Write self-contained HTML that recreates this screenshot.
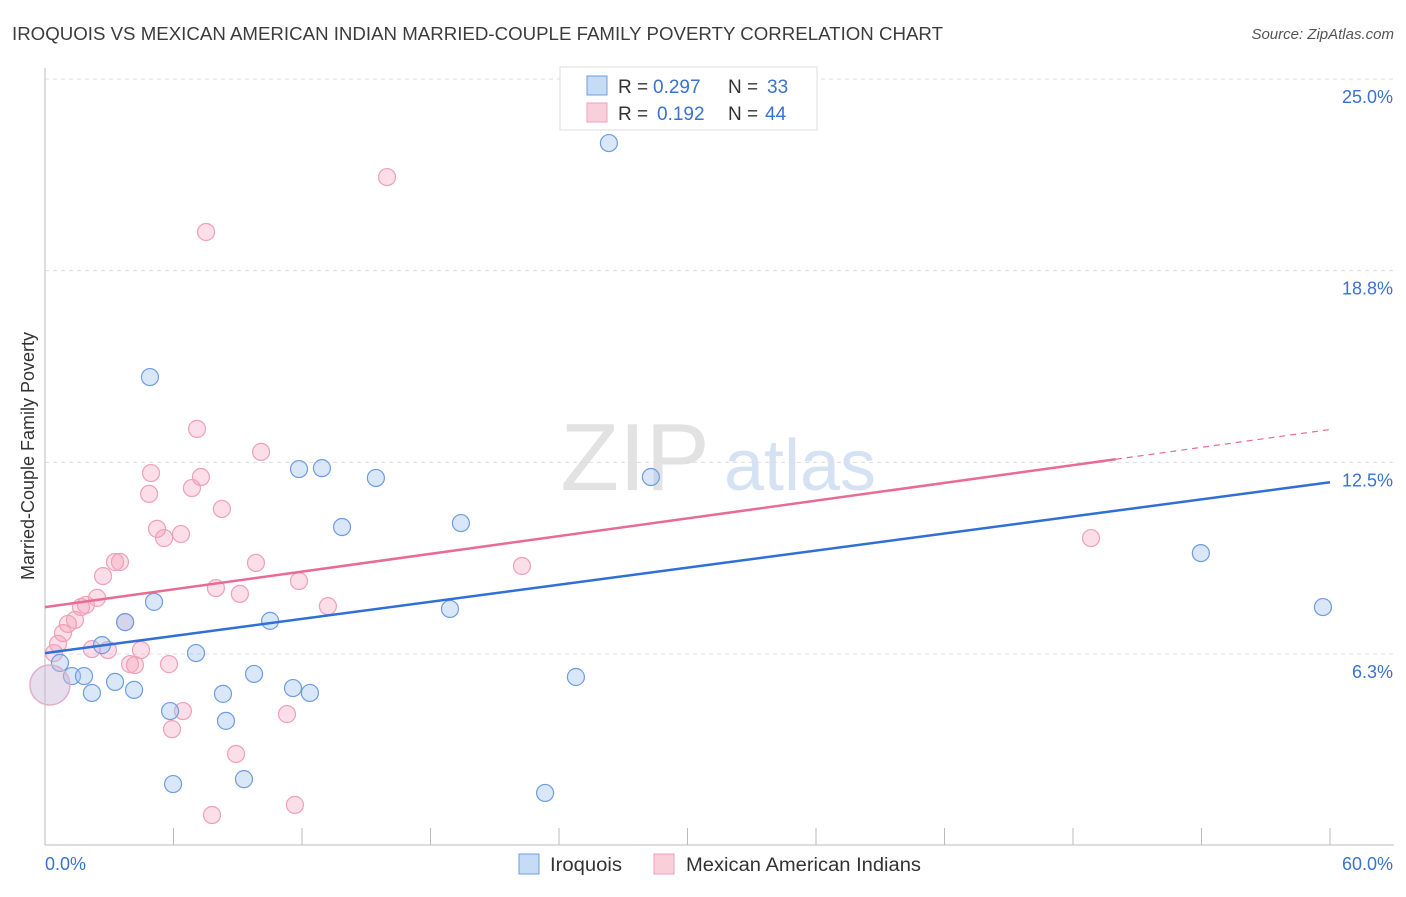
<!DOCTYPE html>
<html><head><meta charset="utf-8"><style>
body{margin:0;background:#fff;font-family:"Liberation Sans",sans-serif}
svg text{font-family:"Liberation Sans",sans-serif}
</style></head><body>
<svg id="c" width="1406" height="892"></svg>
<script>
const blueX=[26.33,4.90,11.86,12.93,15.45,28.29,19.42,13.87,53.97,59.67,5.09,18.91,3.74,10.51,2.66,7.05,0.70,1.26,1.82,9.76,24.79,3.27,11.58,2.19,4.16,12.37,8.31,5.84,8.45,9.29,5.98,23.35];
const blueY=[22.91,15.28,12.28,12.31,11.99,12.02,10.52,10.39,9.54,7.78,7.95,7.72,7.29,7.33,6.54,6.28,5.96,5.53,5.53,5.60,5.50,5.34,5.14,4.98,5.08,4.98,4.95,4.39,4.07,2.17,2.01,1.72];
const pinkX=[15.97,7.52,7.10,10.09,4.95,7.28,6.86,4.86,8.26,5.23,6.35,5.56,3.27,3.50,9.85,22.27,2.71,11.86,7.98,9.10,2.43,1.91,1.68,13.21,1.40,1.07,0.84,0.61,2.19,2.94,4.48,0.42,3.97,4.20,5.79,48.84,6.44,11.30,5.93,8.92,11.67,7.80,3.74];
const pinkY=[21.80,20.01,13.59,12.84,12.15,12.02,11.66,11.47,10.98,10.33,10.16,10.03,9.25,9.25,9.22,9.12,8.79,8.63,8.40,8.21,8.08,7.85,7.78,7.81,7.36,7.23,6.93,6.58,6.41,6.38,6.38,6.28,5.92,5.89,5.92,10.03,4.39,4.29,3.80,2.99,1.33,1.00,7.29];
const bigPoint=[0.23,5.24];
const blueLine=[6.28,11.85];
const pinkLine=[7.78,12.6,13.57];
const yTicks=[6.3,12.5,18.8,25.0];
const yTickVals=[6.25,12.5,18.75,25];
const NS="http://www.w3.org/2000/svg";
const svg=document.getElementById('c');
const X=v=>45+v/60*1285;
const Y=v=>654-(v-6.25)*30.67;
function el(t,a,p){const e=document.createElementNS(NS,t);for(const k in a)e.setAttribute(k,a[k]);(p||svg).appendChild(e);return e;}
function tx(s,a){const e=el('text',a);e.textContent=s;return e;}
let t=tx('IROQUOIS VS MEXICAN AMERICAN INDIAN MARRIED-COUPLE FAMILY POVERTY CORRELATION CHART',{x:12,y:40,'font-size':18,fill:'#3c3c3c',textLength:931,lengthAdjust:'spacingAndGlyphs'});

t=tx('Source: ZipAtlas.com',{x:1394,y:39,'font-size':15,fill:'#555','text-anchor':'end','font-style':'italic'});

t=tx('ZIP',{x:635,y:490,'font-size':96,fill:'#e2e2e2','text-anchor':'middle'});
t.setAttribute('font-family','Liberation Serif, serif');
t=tx('atlas',{x:800,y:490,'font-size':72,fill:'#d5e2f3','text-anchor':'middle'});

yTickVals.forEach((v,i)=>{
 const g=el('line',{x1:45,x2:1394,y1:Y(v),y2:Y(v),stroke:'#ddd','stroke-dasharray':'4,4'});
 
 const l=tx(yTicks[i].toFixed(1)+'%',{x:1393,y:Y(v)+24,'font-size':18,fill:'#3a72d0','text-anchor':'end'});
 
});
let a=el('line',{x1:45,x2:45,y1:68,y2:845,stroke:'#bbb'});
a=el('line',{x1:45,x2:1394,y1:845,y2:845,stroke:'#bbb'});
for(let i=0;i<=10;i++){const k=el('line',{x1:X(i*6),x2:X(i*6),y1:828,y2:845,stroke:'#bbb'});}
t=tx('0.0%',{x:45,y:870,'font-size':18,fill:'#3a72d0'});
t=tx('60.0%',{x:1393,y:870,'font-size':18,fill:'#3a72d0','text-anchor':'end'});
t=tx('Married-Couple Family Poverty',{x:34,y:456,'font-size':18,fill:'#333','text-anchor':'middle',transform:'rotate(-90 34 456)'});

pinkX.forEach((x,i)=>{const c=el('circle',{cx:X(x),cy:Y(pinkY[i]),r:8.5,fill:'rgba(244,160,185,0.35)',stroke:'#eea0b8','stroke-width':1.2});
 });
blueX.forEach((x,i)=>{const c=el('circle',{cx:X(x),cy:Y(blueY[i]),r:8.5,fill:'rgba(160,195,240,0.4)',stroke:'#6d9de0','stroke-width':1.2});
 });
let b=el('circle',{cx:X(bigPoint[0]),cy:Y(bigPoint[1]),r:20,fill:'rgba(200,180,215,0.45)',stroke:'#e0b0c8','stroke-width':1.5});

let ln=el('line',{x1:X(0),y1:Y(blueLine[0]),x2:X(60),y2:Y(blueLine[1]),stroke:'#2f6fd6','stroke-width':2.5});

ln=el('line',{x1:X(0),y1:Y(pinkLine[0]),x2:X(50),y2:Y(pinkLine[1]),stroke:'#e86b94','stroke-width':2.5});

ln=el('line',{x1:X(50),y1:Y(pinkLine[1]),x2:X(60),y2:Y(pinkLine[2]),stroke:'#e86b94','stroke-width':1.2,'stroke-dasharray':'6,5'});

const lg=el('g',{});
el('rect',{x:560,y:67,width:257,height:63,fill:'#fff',stroke:'#ddd'},lg);
el('rect',{x:587,y:76,width:20,height:19,fill:'rgba(160,195,240,0.6)',stroke:'#6d9de0'},lg);
el('rect',{x:587,y:103,width:20,height:19,fill:'rgba(244,160,185,0.5)',stroke:'#eea0b8'},lg);
[[0.297,33,93],[0.192,44,120]].forEach(([r,n,y],i)=>{
 const a1=tx('R = ',{x:618,y:y,'font-size':19,fill:'#333'});
 const a2=tx(r.toFixed(3),{x:i?657:653,y:y,'font-size':19,fill:'#3a72d0'});
 const a3=tx('N = ',{x:728,y:y,'font-size':19,fill:'#333'});
 const a4=tx(String(n),{x:i?765:767,y:y,'font-size':19,fill:'#3a72d0'});
});
let r1=el('rect',{x:519,y:854,width:20,height:20,fill:'rgba(160,195,240,0.6)',stroke:'#6d9de0'});
t=tx('Iroquois',{x:550,y:871,'font-size':19,fill:'#333',textLength:72,lengthAdjust:'spacingAndGlyphs'});
r1=el('rect',{x:654,y:854,width:20,height:20,fill:'rgba(244,160,185,0.5)',stroke:'#eea0b8'});
t=tx('Mexican American Indians',{x:686,y:871,'font-size':19,fill:'#333',textLength:235,lengthAdjust:'spacingAndGlyphs'});
</script>
</body></html>
